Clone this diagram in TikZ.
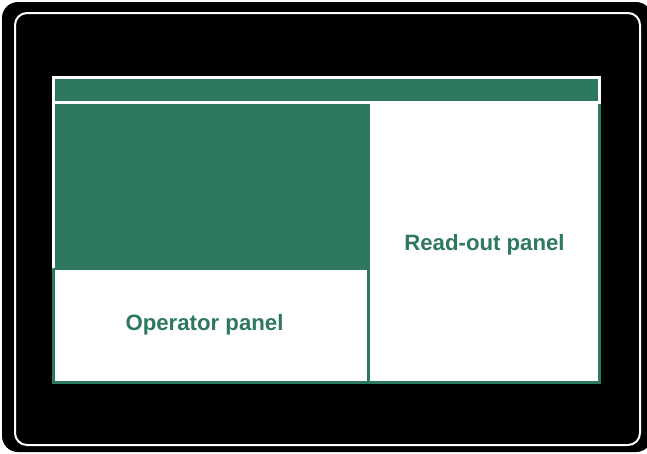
\documentclass[tikz,border=0pt]{standalone}
\usepackage{fontspec}
\setmainfont{Liberation Sans}
\definecolor{pgreen}{RGB}{46,120,98}
\begin{document}
\begin{tikzpicture}[x=1pt,y=-1pt,
  lbl/.style={font=\fontsize{22.2}{25}\selectfont\bfseries, text=pgreen, inner sep=0pt},
  bar/.style={fill=pgreen, draw=white, line width=3pt},
  panel/.style={fill=white, draw=pgreen, line width=3pt}]
\useasboundingbox (0,0) rectangle (647,453);
\fill[white] (0,0) rectangle (647,453);
% device frame
\fill[black, rounded corners=16pt] (2,2) rectangle (652,452);
\draw[white, line width=2pt, rounded corners=12pt] (15,13) rectangle (640,445);
% green upper-left block
\fill[pgreen] (53.5,102.5) rectangle (368.3,268.5);
% operator panel
\draw[panel] (53.5,268.5) rectangle (368.3,382.5);
\coordinate (oper) at (210.9,325.5);
% read-out panel
\draw[panel] (368.3,102.5) rectangle (599.5,382.5);
\coordinate (readout) at (483.9,242.5);
% left white edge of upper block
\draw[white, line width=3pt] (53.5,101) -- (53.5,267.5);
% top bar
\draw[bar] (53.5,77.5) rectangle (599.5,102.5);
\node[lbl] (operlbl) at (204.5,324.5) {Operator panel};
\node[lbl] (readlbl) at (484.5,244.5) {Read-out panel};
\end{tikzpicture}
\end{document}
